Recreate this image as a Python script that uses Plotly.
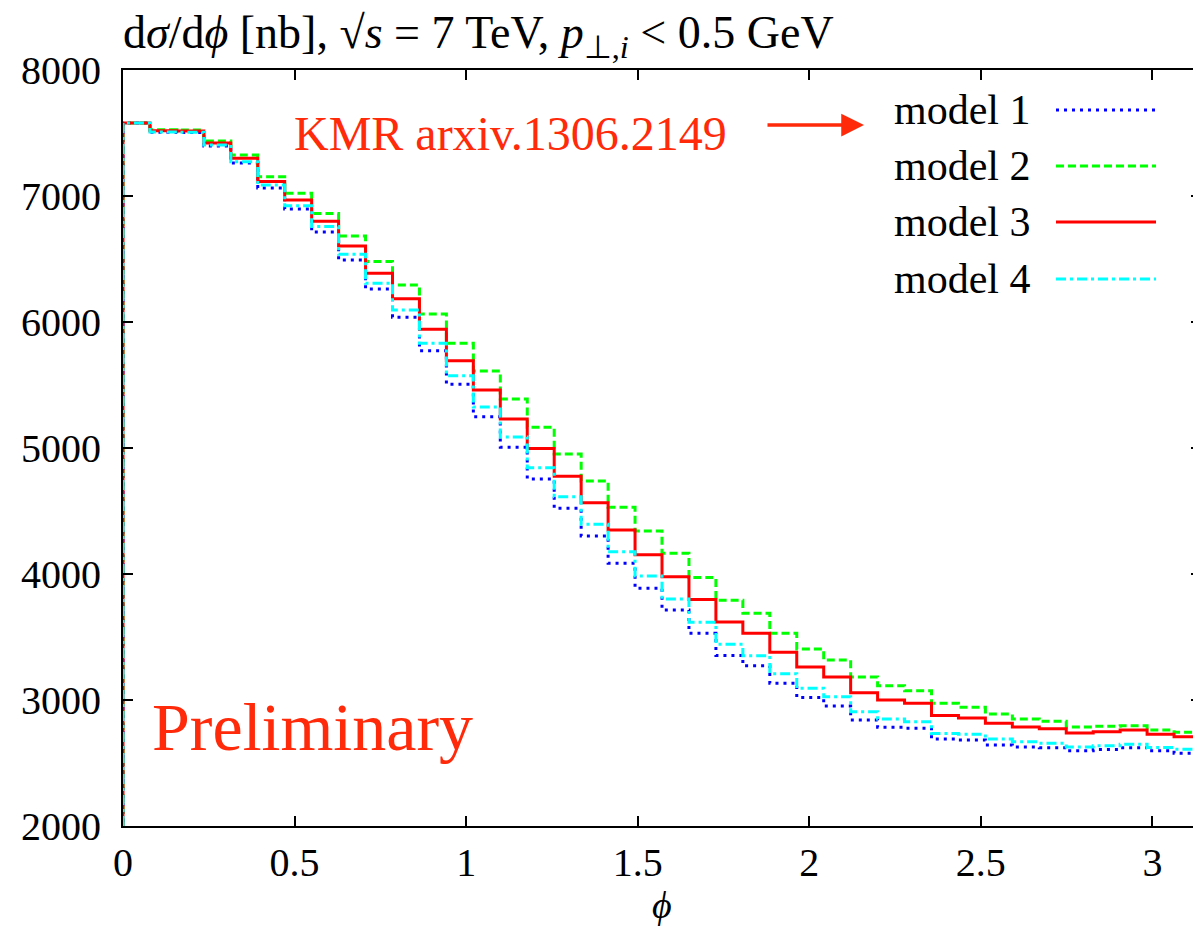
import numpy as np
import plotly.graph_objects as go

# ---- data ----
PHI_MAX = np.pi
N_BINS = 40
bin_edges = np.linspace(0.0, PHI_MAX, N_BINS + 1)

model1 = [7580, 7505, 7503, 7397, 7262, 7063, 6897, 6714, 6492, 6262,
          6037, 5772, 5505, 5249, 5006, 4754, 4521, 4302, 4085, 3886,
          3714, 3529, 3354, 3272, 3132, 3019, 2952, 2841, 2783, 2775,
          2690, 2683, 2643, 2627, 2622, 2598, 2608, 2622, 2598, 2578]
model2 = [7580, 7525, 7524, 7437, 7325, 7153, 7021, 6862, 6683, 6481,
          6294, 6063, 5831, 5611, 5389, 5164, 4952, 4738, 4529, 4341,
          4164, 3972, 3792, 3688, 3529, 3405, 3317, 3183, 3114, 3074,
          2974, 2942, 2889, 2849, 2831, 2786, 2791, 2796, 2762, 2744]
model3 = [7580, 7518, 7515, 7421, 7299, 7116, 6968, 6799, 6603, 6386,
          6185, 5942, 5693, 5460, 5230, 4997, 4775, 4566, 4349, 4153,
          3979, 3797, 3620, 3529, 3378, 3262, 3183, 3058, 3000, 2974,
          2876, 2857, 2815, 2786, 2772, 2738, 2749, 2762, 2728, 2709]
model4 = [7580, 7508, 7505, 7405, 7272, 7087, 6923, 6757, 6537, 6307,
          6095, 5831, 5574, 5325, 5087, 4844, 4614, 4394, 4177, 3984,
          3802, 3617, 3442, 3352, 3209, 3093, 3026, 2907, 2849, 2828,
          2735, 2728, 2690, 2669, 2656, 2627, 2637, 2648, 2624, 2610]

series_names = ["model 1", "model 2", "model 3", "model 4"]
series_values = [model1, model2, model3, model4]
series_colors = ["#0000ff", "#00ff00", "#ff0000", "#00ffff"]
series_dash = ["3px,5px", "8px,4px", "solid", "10px,4px,3px,4px"]

y_ticks = [2000, 3000, 4000, 5000, 6000, 7000, 8000]
x_ticks = [0, 0.5, 1, 1.5, 2, 2.5, 3]
x_tick_text = ["0", "0.5", "1", "1.5", "2", "2.5", "3"]

# ---- figure geometry (page has an 8px body margin) ----
OFF = 8
W, H = 1201 - OFF, 937 - OFF
L, R, T = 115, 0, 62
PH = 756
B = H - T - PH
PW = W - L - R

def px(xp):
    return (xp - OFF - L) / PW

def py(yp):
    return (OFF + T + PH - yp) / PH

FONT = "Liberation Serif"
RED = "#ff2a0a"

fig = go.Figure()
HIST_BASE = 0
for name, vals, col, dash in zip(series_names, series_values, series_colors, series_dash):
    xs = [bin_edges[0]] + list(bin_edges)
    ys = [HIST_BASE] + list(vals) + [vals[-1]]
    fig.add_trace(go.Scatter(
        x=xs, y=ys, mode="lines", name=name,
        line=dict(color=col, width=3, dash=dash, shape="hv"),
        showlegend=False, hoverinfo="skip"))

axis_common = dict(
    showline=True, linecolor="black", linewidth=2, mirror="ticks",
    ticks="inside", ticklen=10, tickwidth=1.5, tickcolor="black",
    showgrid=False, zeroline=False, automargin=False,
    tickfont=dict(family=FONT, size=40, color="black"),
)

fig.update_layout(
    width=W, height=H,
    margin=dict(l=L, r=R, t=T, b=B, autoexpand=False),
    paper_bgcolor="white", plot_bgcolor="white",
    font=dict(family=FONT, color="black"),
    xaxis=dict(range=[0, PHI_MAX], tickvals=x_ticks, ticktext=x_tick_text,
               ticklabelstandoff=0, **axis_common),
    yaxis=dict(range=[2000, 8000], tickvals=y_ticks,
               ticklabelstandoff=12, **axis_common),
    showlegend=False,
)

annotations = []
# title
annotations.append(dict(
    x=px(121), y=py(36), xref="paper", yref="paper", xanchor="left", yanchor="middle",
    showarrow=False,
    text="d<i>σ</i>/d<i>ϕ</i> [nb], √<span style='text-decoration:overline'><i>s</i></span> = 7 TeV, "
         "<i>p</i><sub>⊥,<i>i</i></sub> &lt; 0.5 GeV",
    font=dict(family=FONT, size=46, color="black")))
# x axis title
annotations.append(dict(
    x=px(662), y=py(905), xref="paper", yref="paper", xanchor="center", yanchor="middle",
    showarrow=False, text="<i>ϕ</i>", font=dict(family=FONT, size=38, color="black")))
# KMR reference text
annotations.append(dict(
    x=px(292), y=py(133), xref="paper", yref="paper", xanchor="left", yanchor="middle",
    showarrow=False, text="KMR arxiv.1306.2149",
    font=dict(family=FONT, size=48, color=RED)))
# arrow
annotations.append(dict(
    x=px(864), y=py(125), xref="paper", yref="paper", showarrow=True,
    ax=-98, ay=0, axref="pixel", ayref="pixel", text="",
    arrowhead=2, arrowsize=1.3, arrowwidth=3.5, arrowcolor=RED))
# Preliminary
annotations.append(dict(
    x=px(150), y=py(767), xref="paper", yref="paper", xanchor="left", yanchor="bottom",
    showarrow=False, text="Preliminary",
    font=dict(family=FONT, size=68, color=RED)))

# manual legend (text left, sample right)
legend_rows = [110, 166, 222, 279]
shapes = []
for name, col, dash, yr in zip(series_names, series_colors, series_dash, legend_rows):
    annotations.append(dict(
        x=px(1032), y=py(yr), xref="paper", yref="paper", xanchor="right", yanchor="middle",
        showarrow=False, text=name, font=dict(family=FONT, size=42, color="black")))
    shapes.append(dict(
        type="line", xref="paper", yref="paper",
        x0=px(1056), x1=px(1156), y0=py(yr), y1=py(yr),
        line=dict(color=col, width=3, dash=dash)))

fig.update_layout(annotations=annotations, shapes=shapes)
fig.write_html("out.html")
